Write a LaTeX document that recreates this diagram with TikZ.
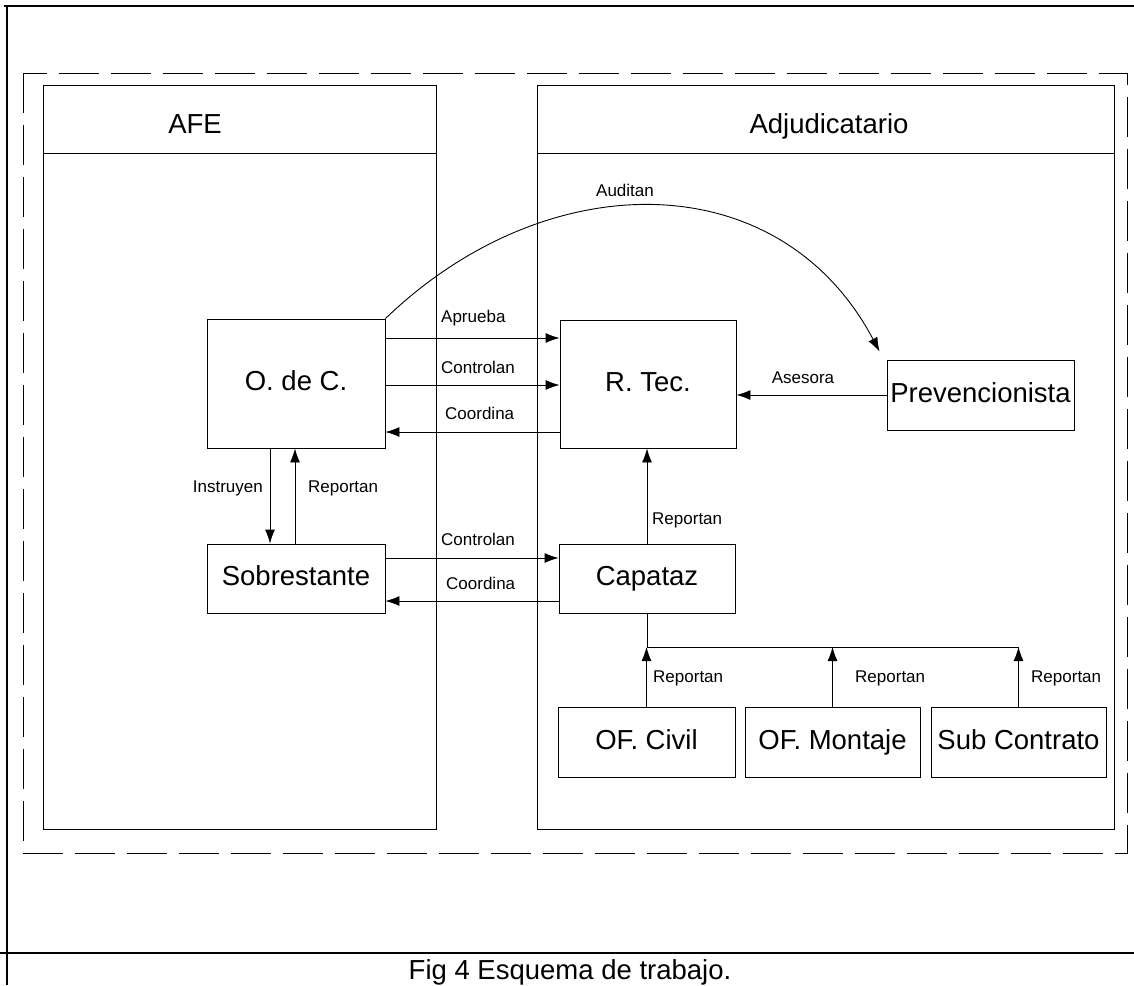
\documentclass[tikz,border=0pt]{standalone}
\usepackage{fontspec}
\setmainfont{Liberation Sans}
\usetikzlibrary{arrows.meta,calc}
\begin{document}
\begin{tikzpicture}[x=1pt,y=-1pt,
  box/.style={draw, line width=0.9pt, inner sep=0pt, text height=19pt, text depth=5pt, font=\fontsize{27.5}{32}\selectfont},
  frame/.style={draw, line width=1pt, inner sep=0pt},
  head/.style={font=\fontsize{27.5}{32}\selectfont, inner sep=0pt, anchor=base},
  lbl/.style={font=\fontsize{17}{20}\selectfont, inner sep=0pt},
  arr/.style={draw, line width=0.9pt, -{Latex[length=14pt,width=10pt]}},
  ln/.style={draw, line width=0.9pt},
  dashframe/.style={draw, line width=1pt, dash pattern=on 40pt off 12pt}]
\useasboundingbox (0,0) rectangle (1134,985);
% outer page lines
\draw[line width=1.2pt] (4,6) -- (1134,6);
\draw[line width=1.2pt] (7,6) -- (7,985);
\draw[line width=1.2pt] (0,953) -- (1134,953);
% dashed frame
\draw[dashframe] (23,73) rectangle (1127,853);
% lanes
\node[frame, minimum width=393pt, minimum height=744pt] (afe) at (239.5,457) {};
\node[frame, minimum width=577pt, minimum height=744pt] (adj) at (825.5,457) {};
\coordinate (hl) at (0,153);
\draw[line width=1pt] (afe.west |- hl) -- (afe.east |- hl);
\draw[line width=1pt] (adj.west |- hl) -- (adj.east |- hl);
\node[head] (afetxt) at (195,133) {AFE};
\node[head] (adjtxt) at (829,133) {Adjudicatario};
% nodes
\node[box, minimum width=178pt, minimum height=129pt] (odc) at (296,383.5) {O. de C.};
\node[box, minimum width=178pt, minimum height=69pt] (sob) at (296,578.5) {Sobrestante};
\node[box, minimum width=176pt, minimum height=128pt] (rtec) at (648,384) {R. Tec.};
\node[box, minimum width=187pt, minimum height=70pt] (prev) at (980.5,395) {Prevencionista};
\node[box, minimum width=176pt, minimum height=69pt] (cap) at (647,578.5) {Capataz};
\node[box, minimum width=177pt, minimum height=70pt] (civil) at (646.5,742) {OF. Civil};
\node[box, minimum width=175pt, minimum height=70pt] (mont) at (832.5,742) {OF. Montaje};
\node[box, minimum width=175pt, minimum height=70pt] (sub) at (1018.5,742) {Sub Contrato};
% O. de C. <-> R. Tec.
\coordinate (yA) at (0,338);
\coordinate (yB) at (0,385);
\coordinate (yC) at (0,432);
\draw[arr] (odc.east |- yA) -- (rtec.west |- yA);
\draw[arr] (odc.east |- yB) -- (rtec.west |- yB);
\draw[arr] (rtec.west |- yC) -- (odc.east |- yC);
\node[lbl, anchor=west] (lA) at (441,318) {Aprueba};
\node[lbl, anchor=west] (lB) at (441,367) {Controlan};
\node[lbl, anchor=west] (lC) at (445,413) {Coordina};
% Sobrestante <-> Capataz
\coordinate (yD) at (0,558);
\coordinate (yE) at (0,601);
\draw[arr] (sob.east |- yD) -- (cap.west |- yD);
\draw[arr] (cap.west |- yE) -- (sob.east |- yE);
\node[lbl, anchor=west] (lD) at (441,539) {Controlan};
\node[lbl, anchor=west] (lE) at (446,583) {Coordina};
% O. de C. <-> Sobrestante
\coordinate (xI) at (270,0);
\coordinate (xR) at (295,0);
\draw[arr] (odc.south -| xI) -- (sob.north -| xI);
\draw[arr] (sob.north -| xR) -- (odc.south -| xR);
\node[lbl, anchor=east] (lI) at (263,488) {Instruyen};
\node[lbl, anchor=west] (lR) at (308,488) {Reportan};
% Capataz -> R. Tec.
\draw[arr] (cap.north) -- (cap.north |- rtec.south);
\node[lbl, anchor=west] (lCR) at (652,520) {Reportan};
% Prevencionista -> R. Tec.
\draw[arr] (prev.west) -- (prev.west -| rtec.east);
\node[lbl] (lAs) at (803,378) {Asesora};
% Auditan curve
\coordinate (audend) at ($(prev.north west)+(-7,-8)$);
\draw[arr] (odc.north east) .. controls (547,163) and (780,163) .. (audend);
\node[lbl] (lAu) at (625,190) {Auditan};
% bus
\coordinate (bus) at (0,647);
\draw[ln] (cap.south) -- (cap.south |- bus) -- (sub.north |- bus);
\draw[arr] (civil.north) -- (civil.north |- bus);
\draw[arr] (mont.north) -- (mont.north |- bus);
\draw[arr] (sub.north) -- (sub.north |- bus);
\node[lbl, anchor=west] (lr1) at (653,678) {Reportan};
\node[lbl, anchor=west] (lr2) at (855,678) {Reportan};
\node[lbl, anchor=west] (lr3) at (1031,678) {Reportan};
% caption
\node[font=\fontsize{27.5}{32}\selectfont, anchor=base, inner sep=0pt] (caption) at (570,979) {Fig 4 Esquema de trabajo.};
\end{tikzpicture}
\end{document}
